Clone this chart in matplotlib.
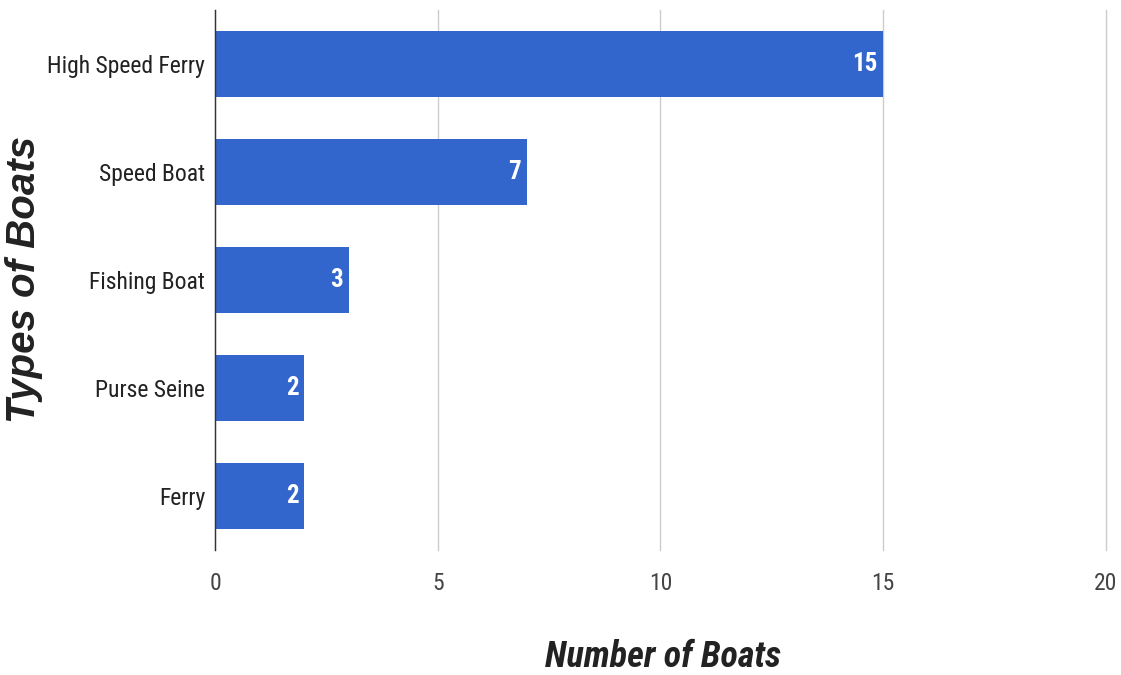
import matplotlib
matplotlib.use('Agg')
import matplotlib.pyplot as plt

# boat counts by type, top to bottom
boat_types = ['High Speed Ferry', 'Speed Boat', 'Fishing Boat', 'Purse Seine', 'Ferry']
boat_counts = [15, 7, 3, 2, 2]
x_ticks = [0, 5, 10, 15, 20]

cond = ['Roboto Condensed', 'DejaVu Sans']

fig = plt.figure(figsize=(11.21, 6.75), dpi=100)
ax = fig.add_axes([0.1918, 0.185, 0.7948, 0.800])

pos = list(range(len(boat_types)))[::-1]
bars = ax.barh(pos, boat_counts, height=0.61, color='#3366cc', zorder=3)

# value labels inside the bar ends
for rect, n in zip(bars, boat_counts):
    ax.text(rect.get_width() - 0.13, rect.get_y() + rect.get_height() / 2, str(n),
            ha='right', va='center', color='white', fontsize=18,
            family=cond, fontweight='bold', zorder=4)

ax.set_xlim(0, 20)
ax.set_ylim(-0.5, 4.5)
ax.set_xticks(x_ticks)
ax.set_xticklabels([str(t) for t in x_ticks], family=cond, fontsize=17, color='#444444')
ax.set_yticks(pos)
ax.set_yticklabels(boat_types, family=cond, fontsize=17, color='#222222')
ax.tick_params(axis='both', length=0)
ax.tick_params(axis='x', pad=16)
ax.tick_params(axis='y', pad=7)

ax.grid(axis='x', color='#cccccc', linewidth=1, zorder=0)
for gl in ax.get_xgridlines():
    gl.set_clip_on(False)
for s in ['top', 'right', 'bottom']:
    ax.spines[s].set_visible(False)
ax.spines['left'].set_color('#333333')
ax.spines['left'].set_linewidth(1)
ax.spines['left'].set_zorder(5)

fig.text(0.591, 0.0, 'Number of Boats', ha='center', va='bottom',
         family=cond, fontsize=26, fontweight='bold', style='italic', color='#222222')
fig.text(0.021, 0.586, 'Types of Boats', ha='center', va='center', rotation=90,
         family='Liberation Sans', fontsize=29, fontweight='bold', style='italic', color='#222222')

fig.savefig('out.png', dpi=100)
